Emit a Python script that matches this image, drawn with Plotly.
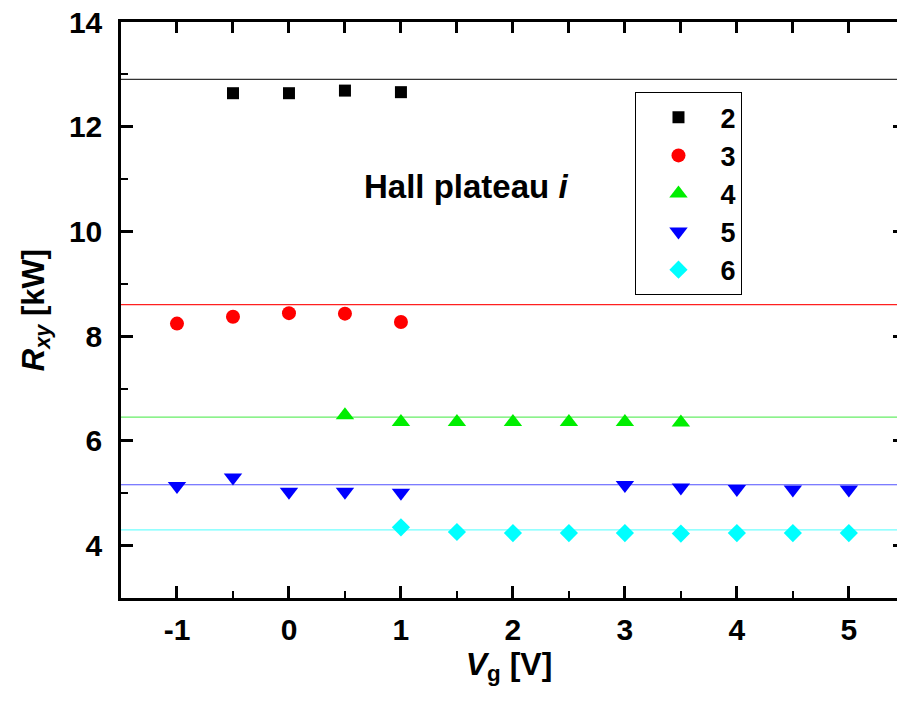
import plotly.graph_objects as go

# Gate voltage (V) and Hall resistance (kOhm) for each plateau index
plateau_index = [2, 3, 4, 5, 6]

vg_2 = [-0.5, 0.0, 0.5, 1.0]
rxy_2 = [12.64, 12.64, 12.69, 12.66]

vg_3 = [-1.0, -0.5, 0.0, 0.5, 1.0]
rxy_3 = [8.24, 8.37, 8.44, 8.43, 8.27]

vg_4 = [0.5, 1.0, 1.5, 2.0, 2.5, 3.0, 3.5]
rxy_4 = [6.49, 6.36, 6.36, 6.36, 6.36, 6.36, 6.35]

vg_5 = [-1.0, -0.5, 0.0, 0.5, 1.0, 3.0, 3.5, 4.0, 4.5, 5.0]
rxy_5 = [5.14, 5.30, 5.03, 5.03, 5.01, 5.16, 5.11, 5.08, 5.07, 5.07]

vg_6 = [1.0, 1.5, 2.0, 2.5, 3.0, 3.5, 4.0, 4.5, 5.0]
rxy_6 = [4.35, 4.26, 4.24, 4.24, 4.24, 4.23, 4.24, 4.24, 4.24]

# Quantised Hall resistance h/(i e^2) in kOhm
rk_over_i = [12.906, 8.604, 6.453, 5.163, 4.302]

x_ticks = [-1, 0, 1, 2, 3, 4, 5]
x_minor = [-0.5, 0.5, 1.5, 2.5, 3.5, 4.5]
y_ticks = [4, 6, 8, 10, 12, 14]
y_minor = [5, 7, 9, 11, 13]
x_range = [-1.5, 5.43]
y_range = [3, 14]

FONT = "Liberation Sans, Arial, sans-serif"

series = [
    (vg_2, rxy_2, "square", "#000000", 12),
    (vg_3, rxy_3, "circle", "#ff0000", 14),
    (vg_4, rxy_4, "triangle-up", "#00ee00", 16),
    (vg_5, rxy_5, "triangle-down", "#0000ff", 16),
    (vg_6, rxy_6, "diamond", "#00ffff", 14),
]
line_colors = ["#333333", "#ff2020", "#66ee66", "#5050ff", "#70ffff"]

fig = go.Figure()

for (xs, ys, sym, col, sz), idx in zip(series, plateau_index):
    fig.add_trace(go.Scatter(
        x=xs, y=ys, mode="markers", name=f"<b>{idx}</b>",
        marker=dict(symbol=sym, color=col, size=sz, line=dict(width=0)),
    ))

# Horizontal reference lines at h/(i e^2)
for val, col in zip(rk_over_i, line_colors):
    fig.add_shape(type="line", xref="paper", x0=0, x1=1, yref="y", y0=val, y1=val,
                  line=dict(color=col, width=1.2), layer="below")

axis_common = dict(
    showline=True, linecolor="black", linewidth=2.5,
    ticks="inside", ticklen=12, tickwidth=2.5, tickcolor="black",
    showgrid=False, zeroline=False,
    tickfont=dict(family=FONT, size=30, color="black"),
)

fig.update_layout(
    width=897, height=702,
    margin=dict(l=121, r=0, t=22, b=104),
    paper_bgcolor="white", plot_bgcolor="white",
    font=dict(family=FONT, color="black"),
    xaxis=dict(
        range=x_range, tickvals=x_ticks,
        ticktext=[f"<b>{v}</b>" for v in x_ticks],
        minor=dict(tickvals=x_minor, ticks="inside",
                   ticklen=7, tickwidth=2, tickcolor="black"),
        ticklabelstandoff=3,
        title=dict(text="<b><i>V</i><sub>g</sub> [V]</b>", font=dict(size=32), standoff=4),
        **axis_common,
    ),
    # top frame edge: every half volt carries a full-length tick
    xaxis2=dict(
        range=x_range, overlaying="x", side="top", anchor="y",
        showline=True, linecolor="black", linewidth=2.5,
        tickvals=x_ticks + x_minor, ticks="inside", ticklen=11, tickwidth=2.5,
        tickcolor="black", showticklabels=False, showgrid=False, zeroline=False,
    ),
    yaxis=dict(
        range=y_range, tickvals=y_ticks,
        ticktext=[f"<b>{v}</b>" for v in y_ticks],
        minor=dict(tickvals=y_minor, ticks="inside",
                   ticklen=7, tickwidth=2, tickcolor="black"),
        ticklabelstandoff=10,
        title=dict(text="<b><i>R</i><sub><i>xy</i></sub> [kW]</b>", font=dict(size=31), standoff=16),
        **axis_common,
    ),
    # right frame edge sits just past the page; only tick stubs show
    yaxis2=dict(
        range=y_range, overlaying="y", side="right", showline=False,
        tickvals=y_ticks, ticks="inside", ticklen=4, tickwidth=2.5, tickcolor="black",
        showticklabels=False, showgrid=False, zeroline=False,
    ),
    legend=dict(
        x=0.663, y=0.878, xanchor="left", yanchor="top",
        bgcolor="white", bordercolor="black", borderwidth=1,
        font=dict(family=FONT, size=27, color="black"),
        itemwidth=74, tracegroupgap=0,
    ),
    showlegend=True,
)

# Empty traces so the extra frame axes are drawn
fig.add_trace(go.Scatter(x=[None], y=[None], yaxis="y2", showlegend=False, hoverinfo="skip"))
fig.add_trace(go.Scatter(x=[None], y=[None], xaxis="x2", showlegend=False, hoverinfo="skip"))

fig.add_annotation(
    text="<b>Hall plateau <i>i</i></b>", xref="paper", yref="paper",
    x=0.31, y=0.715, xanchor="left", yanchor="middle", showarrow=False,
    font=dict(family=FONT, size=33, color="black"),
)

fig.write_html("out.html")
